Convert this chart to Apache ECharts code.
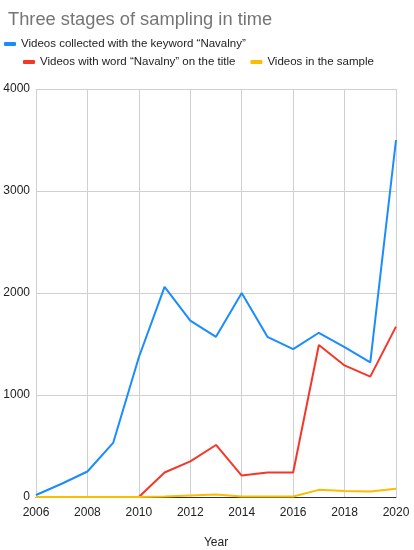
<!DOCTYPE html>
<html>
<head>
<meta charset="utf-8">
<script src="https://cdn.jsdelivr.net/npm/echarts@6/dist/echarts.min.js"></script>
<style>
  html, body { margin: 0; padding: 0; background: #fff; }
  #chart { width: 414px; height: 550px; }
</style>
</head>
<body>
<div id="chart"></div>
<script>
// data
var years = [2006, 2007, 2008, 2009, 2010, 2011, 2012, 2013, 2014, 2015, 2016, 2017, 2018, 2019, 2020];
var collected = [20, 130, 250, 530, 1370, 2060, 1730, 1570, 2000, 1570, 1450, 1610, 1470, 1320, 3500];
var onTitle = [0, 0, 0, 0, 0, 240, 350, 510, 210, 240, 240, 1490, 1290, 1180, 1670];
var inSample = [0, 0, 0, 0, 0, 5, 15, 25, 5, 5, 5, 70, 60, 55, 80];
var seriesNames = [
  "Videos collected with the keyword \u201cNavalny\u201d",
  "Videos with word \u201cNavalny\u201d on the title",
  "Videos in the sample"
];
var colors = ["#1a8cff", "#f5372a", "#fbbc04"];

function pairs(vals) {
  return years.map(function (y, i) { return [y, vals[i]]; });
}

var chart = echarts.init(document.getElementById("chart"));
var font = "Liberation Sans, Arial, sans-serif";
var legendText = { color: "#222", fontSize: 11.5, fontFamily: font };
var option = {
  backgroundColor: "#fff",
  color: colors,
  animation: false,
  title: {
    text: "Three stages of sampling in time",
    left: 3,
    top: 6,
    textStyle: { color: "#757575", fontSize: 18.3, fontWeight: "normal", fontFamily: font }
  },
  legend: [
    {
      data: [seriesNames[0]],
      left: 4,
      top: 38,
      padding: 0,
      icon: "roundRect",
      itemWidth: 12,
      itemHeight: 4,
      itemGap: 15,
      textStyle: legendText
    },
    {
      data: [seriesNames[1], seriesNames[2]],
      left: 23,
      top: 56,
      padding: 0,
      icon: "roundRect",
      itemWidth: 12,
      itemHeight: 4,
      itemGap: 15,
      textStyle: legendText
    }
  ],
  grid: { left: 36, right: 18, top: 89, bottom: 53, containLabel: false, outerBoundsMode: "none" },
  xAxis: {
    type: "value",
    min: 2006,
    max: 2020,
    interval: 2,
    name: "Year",
    nameLocation: "middle",
    nameGap: 40,
    nameTextStyle: { color: "#222", fontSize: 12, fontFamily: font },
    axisLine: { lineStyle: { color: "#333", width: 1 } },
    axisTick: { show: false },
    axisLabel: { color: "#222", fontSize: 12, fontFamily: font, margin: 10, formatter: function (v) { return String(v); } },
    splitLine: { show: true, lineStyle: { color: "#d0d0d0" } }
  },
  yAxis: {
    type: "value",
    min: 0,
    max: 4000,
    interval: 1000,
    axisLine: { show: false },
    axisTick: { show: false },
    axisLabel: { color: "#222", fontSize: 12, fontFamily: font, margin: 6, formatter: function (v) { return String(v); } },
    splitLine: { lineStyle: { color: "#d0d0d0" } }
  },
  series: [
    { name: seriesNames[0], type: "line", data: pairs(collected), symbol: "none", lineStyle: { width: 2 } },
    { name: seriesNames[1], type: "line", data: pairs(onTitle), symbol: "none", lineStyle: { width: 2 } },
    { name: seriesNames[2], type: "line", data: pairs(inSample), symbol: "none", lineStyle: { width: 2 } }
  ]
};
chart.setOption(option);
</script>
</body>
</html>
